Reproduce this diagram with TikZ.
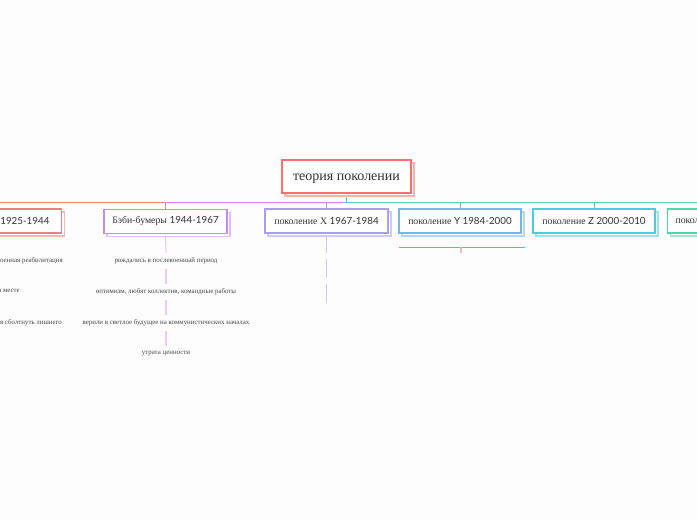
\documentclass[tikz,border=0pt]{standalone}
\usepackage{fontspec}
\setmainfont{Lato}
\newfontfamily\cy{Liberation Serif}
\usetikzlibrary{shadows,backgrounds}
\definecolor{bgc}{HTML}{FDFDFD}
\definecolor{cRoot}{HTML}{FF6E6E}
\definecolor{cRed}{HTML}{F47C7C}
\definecolor{cPurple}{HTML}{C98AEB}
\definecolor{cX}{HTML}{A89FF5}
\definecolor{cBlue}{HTML}{74B6F4}
\definecolor{cTeal}{HTML}{45D0DA}
\definecolor{cGreen}{HTML}{4DD8A8}
\definecolor{cPurpleL}{HTML}{EBCBF8}
\definecolor{cXL}{HTML}{CCC7F8}
\definecolor{cRedL}{HTML}{F9B5B5}
\definecolor{txt}{HTML}{333333}
\tikzset{
  topic/.style={draw=#1, line width=1.1pt, fill=white, minimum height=24pt,
    inner xsep=6pt, text=txt, font=\fontsize{9.8}{11}\selectfont,
    copy shadow={shadow xshift=3pt, shadow yshift=-3pt, draw=#1!55, fill=white, line width=1.1pt}},
  conn/.style={draw=#1, line width=0.9pt},
  subline/.style={draw=#1, line width=1.1pt},
  sub/.style={text=black!72, font=\cy\fontsize{6.9}{8}\selectfont, inner ysep=5pt, inner xsep=1pt},
}
\begin{document}
\begin{tikzpicture}[x=1pt,y=-1pt]
\useasboundingbox (0,0) rectangle (697,520);
\clip (0,0) rectangle (697,520);

% main topics
\node[topic=cRoot, minimum width=129pt, minimum height=33pt, text depth=1pt, font=\cy\fontsize{14}{16}\selectfont] (root) at (346.5,176.5) {\raisebox{-2pt}{теория поколении}};
\node[topic=cRed, anchor=east, text width=110pt, align=right, inner xsep=12pt] (n1) at (62,221) {\raisebox{-1pt}{1925-1944}};
\node[topic=cPurple, minimum width=123pt] (n2) at (165.5,221.5) {\raisebox{-1pt}{{\cy Бэби-бумеры} 1944-1967}};
\node[topic=cX, minimum width=123pt] (n3) at (326.5,221) {\raisebox{-1pt}{{\cy поколение X} 1967-1984}};
\node[topic=cBlue, minimum width=122pt] (n4) at (460,221) {\raisebox{-1pt}{{\cy поколение} Y 1984-2000}};
\node[topic=cTeal, minimum width=122pt] (n5) at (594,221) {\raisebox{-1pt}{{\cy поколение} Z 2000-2010}};
\node[topic=cGreen, anchor=west, text width=110pt, align=left, inner xsep=8pt] (n6) at (667,221) {\raisebox{-1pt}{\cy поколение}};

% sub items of first column
\node[sub, anchor=east] (a1) at (64,261) {послевоенная реабилитация};
\node[sub, anchor=east] (a2) at (21,292) {на одном месте};
\node[sub, anchor=east] (a3) at (63,323) {боятся сболтнуть лишнего};

% sub items of Baby boomers
\node[sub] (b1) at (166,261) {рождались в послевоенный период};
\node[sub] (b2) at (166,292) {оптимизм, любят коллектив, командные работы};
\node[sub] (b3) at (166,323) {верили в светлое будущее на коммунистических началах};
\node[sub] (b4) at (166,354) {утрата ценности};

% empty items of X
\coordinate (x1) at (326.5,253);
\coordinate (x2a) at (326.5,259);
\coordinate (x2b) at (326.5,278);
\coordinate (x3a) at (326.5,284);
\coordinate (x3b) at (326.5,303);

% empty item of Y
\coordinate (yl) at (399,247);
\coordinate (yr) at (525,247);
\coordinate (yt) at (461,247);
\coordinate (ytb) at (461,253);

\begin{scope}[on background layer]
\fill[bgc] (0,0) rectangle (697,520);
\draw[conn=cRed] (root.south) -- ++(0,9) -| (n1.north);
\draw[conn=cX] (root.south) -- ++(0,9) -| (n3.north);
\draw[conn=cPurple] (root.south) -- ++(0,9) -| (n2.north);
\draw[conn=cBlue] (root.south) -- ++(0,9) -| (n4.north);
\draw[conn=cTeal] (root.south) -- ++(0,9) -| (n5.north);
\draw[conn=cGreen] (root.south) -- ++(0,9) -| (n6.north);

\draw[subline=cPurpleL] (n2.south) -- (b1.north);
\draw[subline=cPurpleL] (b1.south) -- (b2.north);
\draw[subline=cPurpleL] (b2.south) -- (b3.north);
\draw[subline=cPurpleL] (b3.south) -- (b4.north);

\draw[subline=cXL] (n3.south) -- (x1);
\draw[subline=cXL] (x2a) -- (x2b);
\draw[subline=cXL] (x3a) -- (x3b);

\draw[conn=cRed] (yl) -- (yr);
\draw[subline=cRedL] (yt) -- (ytb);
\end{scope}
\end{tikzpicture}
\end{document}
